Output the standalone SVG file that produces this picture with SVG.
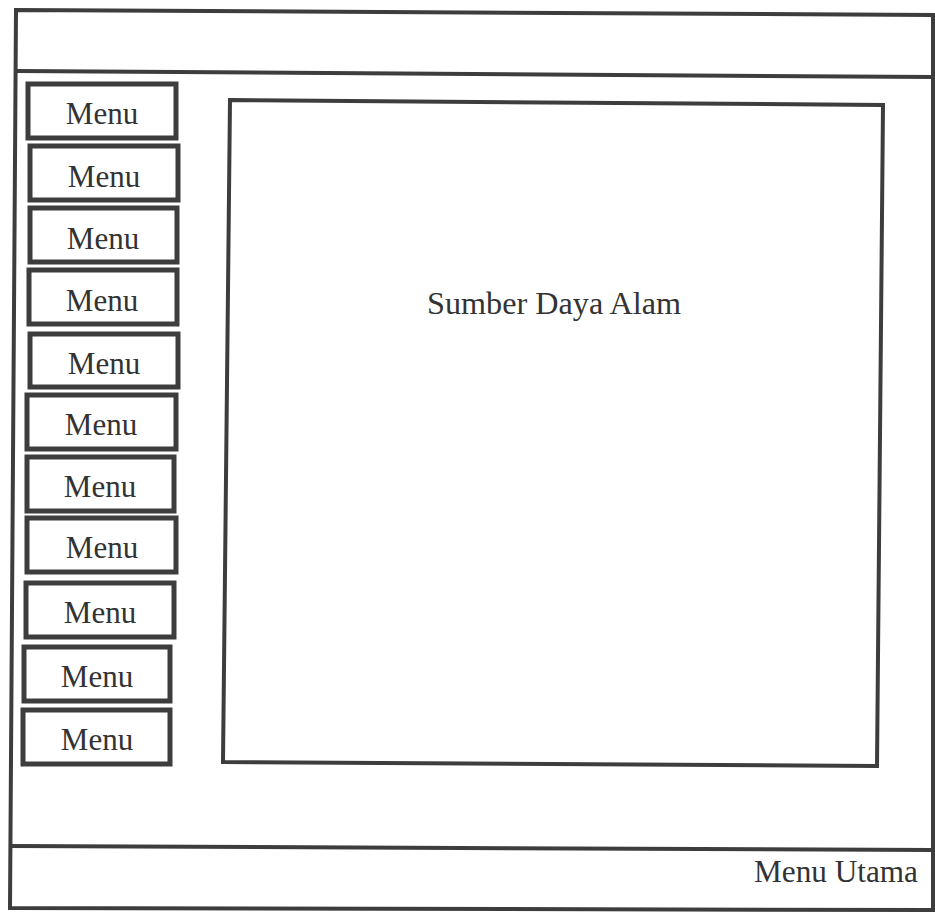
<svg xmlns="http://www.w3.org/2000/svg" width="935" height="912" viewBox="0 0 935 912">
<style>
.ln{fill:none;stroke:#3d3d3d;stroke-width:4;stroke-linejoin:miter}
.bx{fill:#fff;stroke:#3d3d3d;stroke-width:5}
.t{font-family:"Liberation Serif","Times New Roman",serif;fill:#333;font-size:31px}
.m{text-anchor:middle}
</style>
<rect width="935" height="912" fill="#fff"/>
<g id="frame">
<path class="ln" d="M16,10 L933,15 L933,910 L10,908 Z"/>
<path class="ln" d="M16,71 L933,77"/>
<path class="ln" d="M10,846 L933,850"/>
</g>
<g id="content">
<path class="ln" d="M230,100 L883,105 L877,766 L223,762 Z"/>
<text class="t m" x="554" y="314" font-size="32" textLength="254" lengthAdjust="spacingAndGlyphs">Sumber Daya Alam</text>
</g>
<g id="menus">
<g id="menu1"><rect class="bx" x="28" y="84" width="148" height="54"/><text class="t m" x="102" y="124">Menu</text></g>
<g id="menu2"><rect class="bx" x="30" y="146" width="148" height="54"/><text class="t m" x="104" y="187">Menu</text></g>
<g id="menu3"><rect class="bx" x="30" y="208" width="147" height="54"/><text class="t m" x="103" y="249">Menu</text></g>
<g id="menu4"><rect class="bx" x="29" y="270" width="148" height="54"/><text class="t m" x="102" y="311">Menu</text></g>
<g id="menu5"><rect class="bx" x="30" y="334" width="148" height="53"/><text class="t m" x="104" y="374">Menu</text></g>
<g id="menu6"><rect class="bx" x="27" y="395" width="149" height="54"/><text class="t m" x="101" y="435">Menu</text></g>
<g id="menu7"><rect class="bx" x="27" y="457" width="147" height="54"/><text class="t m" x="100" y="497">Menu</text></g>
<g id="menu8"><rect class="bx" x="27" y="518" width="149" height="54"/><text class="t m" x="102" y="558">Menu</text></g>
<g id="menu9"><rect class="bx" x="26" y="583" width="148" height="54"/><text class="t m" x="100" y="623">Menu</text></g>
<g id="menu10"><rect class="bx" x="24" y="647" width="146" height="54"/><text class="t m" x="97" y="687">Menu</text></g>
<g id="menu11"><rect class="bx" x="23" y="710" width="147" height="54"/><text class="t m" x="97" y="750">Menu</text></g>
</g>
<g id="footer">
<text class="t" x="918" y="882" text-anchor="end" font-size="31" textLength="164" lengthAdjust="spacingAndGlyphs">Menu Utama</text>
</g>
</svg>
